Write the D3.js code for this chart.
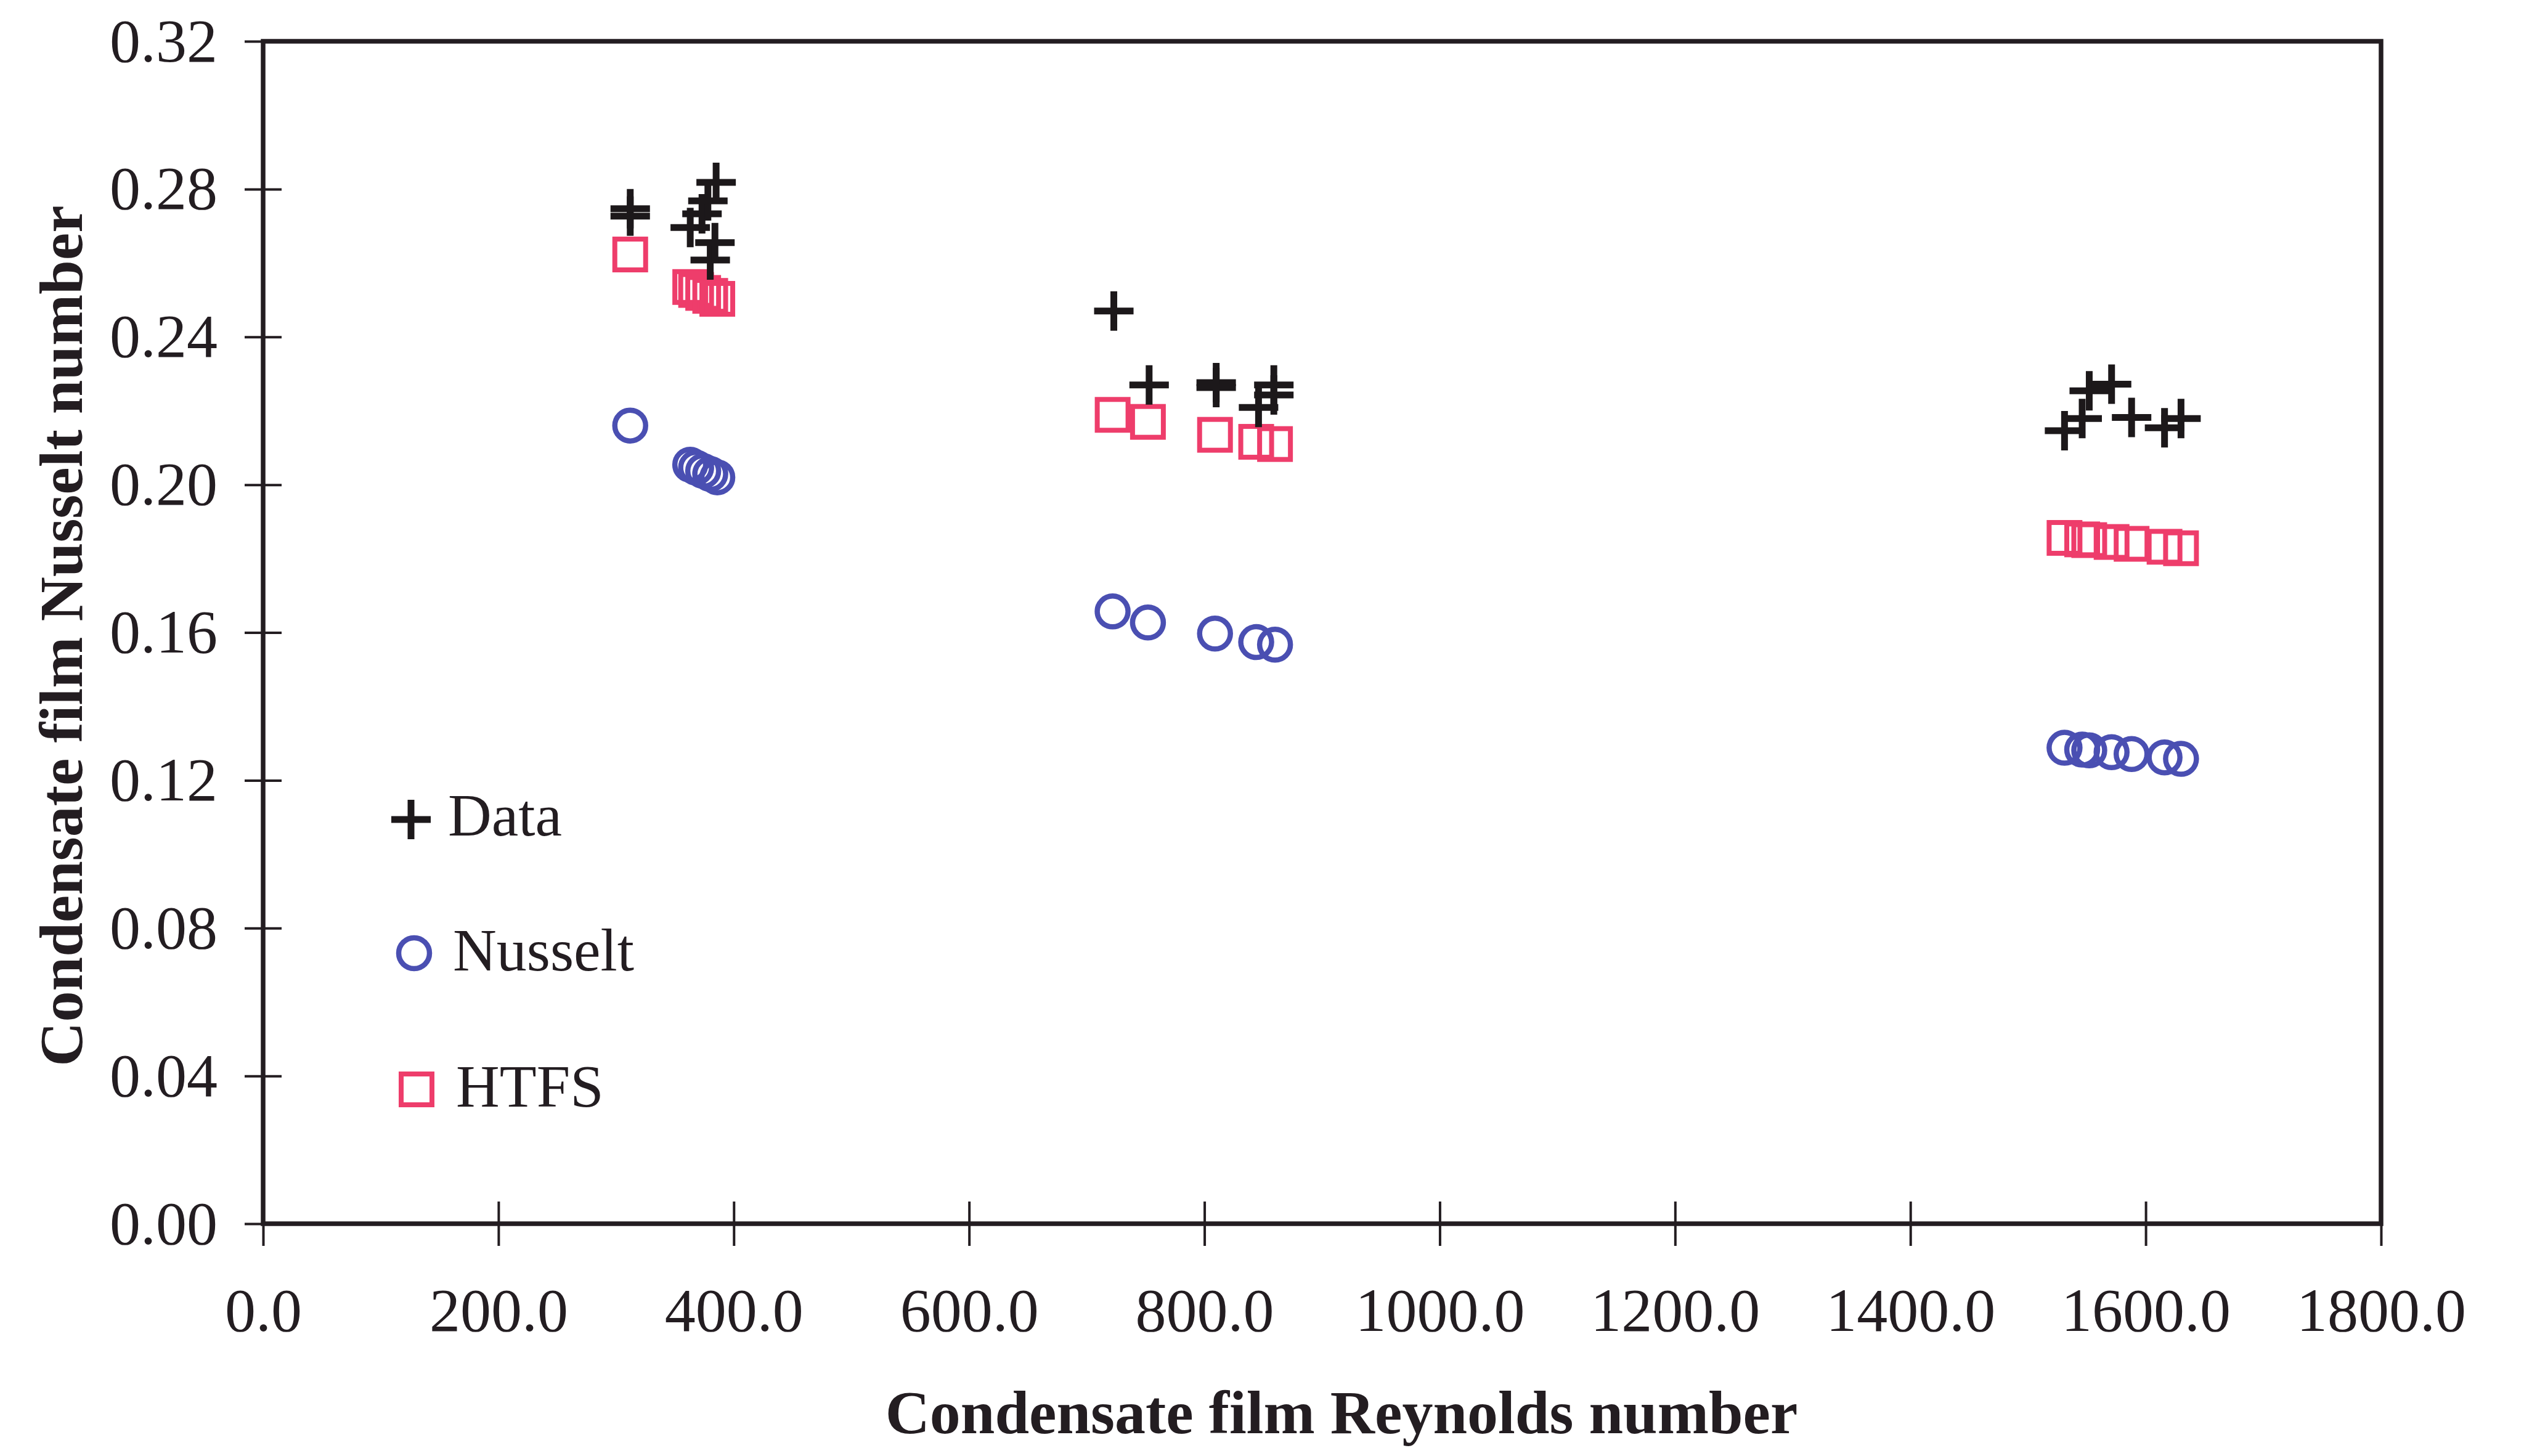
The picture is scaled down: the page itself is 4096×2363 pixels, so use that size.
<!DOCTYPE html>
<html>
<head>
<meta charset="utf-8">
<script src="https://cdn.jsdelivr.net/npm/d3@7"></script>
<style>
  body { margin: 0; background: #fff; }
  svg { display: block; }
</style>
</head>
<body>
<svg width="4096" height="2363"></svg>
<script>
// measured data (condensate film Reynolds number vs Nusselt number)

const reData = [312, 312, 363, 373, 378, 380, 384, 385,
    723, 753, 810, 810, 846, 859, 859,
    1531, 1546, 1552, 1571, 1588, 1616, 1630];
const nuData = [0.2747, 0.2727, 0.2696, 0.2733, 0.2768, 0.2608, 0.2655, 0.2818,
    0.2470, 0.2270, 0.2276, 0.2263, 0.2209, 0.2270, 0.2243,
    0.2146, 0.2179, 0.2254, 0.2272, 0.2182, 0.2154, 0.2179];

// predictions share the same Reynolds numbers
const reModel = [312, 363, 368, 374, 380, 386,
    722, 752, 809, 844, 860,
    1531, 1546, 1552, 1571, 1588, 1616, 1630];
const nuNusselt = [0.2160, 0.2054, 0.2046, 0.2037, 0.2029, 0.2020,
    0.1657, 0.1627, 0.1597, 0.1574, 0.1567,
    0.1288, 0.1283, 0.1281, 0.1276, 0.1271, 0.1262, 0.1258];
const nuHTFS = [0.2623, 0.2535, 0.2527, 0.2519, 0.2511, 0.2503,
    0.2189, 0.2170, 0.2135, 0.2116, 0.2110,
    0.1856, 0.1852, 0.1850, 0.1845, 0.1840, 0.1832, 0.1828];

const xTicks = [0, 200, 400, 600, 800, 1000, 1200, 1400, 1600, 1800];
const yTicks = [0, 0.04, 0.08, 0.12, 0.16, 0.20, 0.24, 0.28, 0.32];

const legendNames = ["Data", "Nusselt", "HTFS"];

const ink = "#231d21";
const blue = "#4a4fb2";
const red = "#ee3d6b";
const serif = "'Liberation Serif', 'Times New Roman', serif";

const svg = d3.select("svg");

const x = d3.scaleLinear()
    .domain([0, 1800])
    .range([427, 3864]);

const y = d3.scaleLinear()
    .domain([0, 0.32])
    .range([1986, 67]);

// axes (ticks cross the frame line)
const xAxis = svg.append("g")
    .attr("transform", `translate(0, ${y(0)})`)
    .call(d3.axisBottom(x).tickValues(xTicks).tickFormat(d3.format(".1f")).tickSizeOuter(0));

xAxis.select(".domain").remove();
xAxis.selectAll(".tick line")
    .attr("y1", -36).attr("y2", 36)
    .attr("stroke", ink).attr("stroke-width", 4);
xAxis.selectAll(".tick text")
    .attr("y", 174).attr("dy", 0)
    .attr("fill", ink)
    .style("font-family", serif)
    .style("font-size", "100px");

const yAxis = svg.append("g")
    .attr("transform", `translate(${x(0)}, 0)`)
    .call(d3.axisLeft(y).tickValues(yTicks).tickFormat(d3.format(".2f")).tickSizeOuter(0));

yAxis.select(".domain").remove();
yAxis.selectAll(".tick line")
    .attr("x1", -30).attr("x2", 30)
    .attr("stroke", ink).attr("stroke-width", 4);
yAxis.selectAll(".tick text")
    .attr("x", -74)
    .attr("fill", ink)
    .style("font-family", serif)
    .style("font-size", "100px");

// plot frame
svg.append("rect")
    .attr("x", x(0))
    .attr("y", y(0.32))
    .attr("width", x(1800) - x(0))
    .attr("height", y(0) - y(0.32))
    .attr("fill", "none")
    .attr("stroke", ink)
    .attr("stroke-width", 7.5);

// axis titles
svg.append("text")
    .attr("x", 2177)
    .attr("y", 2326)
    .attr("text-anchor", "middle")
    .attr("fill", ink)
    .style("font-family", serif)
    .style("font-weight", "bold")
    .style("font-size", "100px")
    .text("Condensate film Reynolds number");

svg.append("text")
    .attr("transform", "translate(133, 1032) rotate(-90)")
    .attr("text-anchor", "middle")
    .attr("fill", ink)
    .style("font-family", serif)
    .style("font-weight", "bold")
    .style("font-size", "100px")
    .text("Condensate film Nusselt number");

// markers
const crossPath = "M-32,0H32M0,-32V32";

function drawCircle(g) {
    g.append("circle").attr("r", 25)
        .attr("fill", "none").attr("stroke", blue).attr("stroke-width", 8.5);
}
function drawSquare(g) {
    g.append("rect").attr("x", -25).attr("y", -25)
        .attr("width", 50).attr("height", 50)
        .attr("fill", "none").attr("stroke", red).attr("stroke-width", 8);
}
function drawCross(g) {
    g.append("path").attr("d", crossPath)
        .attr("fill", "none").attr("stroke", "#1c181a").attr("stroke-width", 11);
}

svg.append("g").selectAll("g")
    .data(reModel.map((r, i) => [r, nuNusselt[i]]))
    .join("g")
    .attr("transform", d => `translate(${x(d[0])}, ${y(d[1])})`)
    .each(function() { drawCircle(d3.select(this)); });

svg.append("g").selectAll("g")
    .data(reModel.map((r, i) => [r, nuHTFS[i]]))
    .join("g")
    .attr("transform", d => `translate(${x(d[0])}, ${y(d[1])})`)
    .each(function() { drawSquare(d3.select(this)); });

svg.append("g").selectAll("g")
    .data(reData.map((r, i) => [r, nuData[i]]))
    .join("g")
    .attr("transform", d => `translate(${x(d[0])}, ${y(d[1])})`)
    .each(function() { drawCross(d3.select(this)); });

// legend
const legendPos = [
    { mx: 667, my: 1330, tx: 727, ty: 1356 },
    { mx: 672, my: 1547, tx: 735, ty: 1575 },
    { mx: 676, my: 1768, tx: 740, ty: 1796 }
];
const drawers = [drawCross, drawCircle, drawSquare];

legendNames.forEach((name, i) => {
    const p = legendPos[i];
    drawers[i](svg.append("g").attr("transform", `translate(${p.mx}, ${p.my})`));
    svg.append("text")
        .attr("x", p.tx)
        .attr("y", p.ty)
        .attr("fill", ink)
        .style("font-family", serif)
        .style("font-size", "98px")
        .text(name);
});
</script>
</body>
</html>
